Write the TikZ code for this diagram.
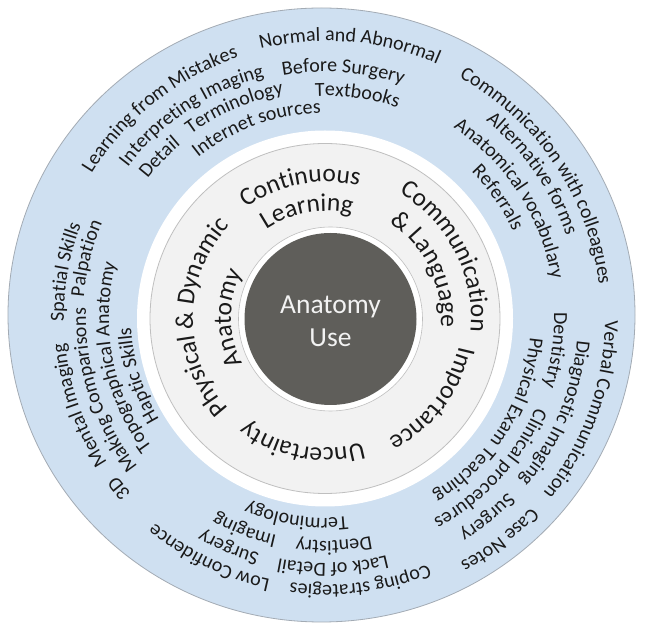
\documentclass[tikz,border=0pt]{standalone}
\usepackage{fontspec}
\setmainfont{Carlito}
\usetikzlibrary{decorations.text,calc}
\definecolor{ringblue}{HTML}{CFE0F1}
\definecolor{ringedge}{HTML}{A3ABB4}
\definecolor{midgray}{HTML}{F2F2F2}
\definecolor{midedge}{HTML}{BFBFBF}
\definecolor{coredark}{HTML}{5F5E5A}
\definecolor{coretext}{HTML}{F2F2F2}
\definecolor{inktext}{HTML}{1A1A1A}
\newcommand\outerfont{\fontsize{20}{24}\selectfont\color{inktext}}
\newcommand\ringfont{\fontsize{25.5}{30}\selectfont\color{inktext}}
\newcommand\centerfont{\fontsize{27.5}{33}\selectfont}
% radius, centre angle, font, text  (clockwise arc, text centred)
\newcommand\arctext[4]{%
  \path[decorate,decoration={text along path,text align=center,text={|#3|#4}}]
    ($(C)+({#2+70}:#1pt)$) arc[start angle={#2+70},end angle={#2-70},radius=#1pt];}
\begin{document}
\begin{tikzpicture}[x=1pt,y=1pt]
\useasboundingbox (0,0) rectangle (646,627);
\fill[white] (0,0) rectangle (646,627);
\coordinate (C) at (326,309);
\coordinate (O) at (321.5,312);
\coordinate (G) at (325,308.5);
\coordinate (K) at (330.5,308);
\filldraw[fill=ringblue,draw=ringedge,line width=0.8pt] (O) ellipse [x radius=313.5, y radius=307];
\fill[white] (G) circle[radius=188];
\filldraw[fill=midgray,draw=midedge,line width=0.8pt] (G) circle[radius=175];
\filldraw[fill=white,draw=midedge,line width=0.6pt] (K) circle[radius=92];
\fill[coredark] (K) circle[radius=86];
\node[text=coretext,align=center,font=\centerfont,inner sep=0pt] (core) at ([yshift=-2pt]K) {Anatomy\\Use};
% inner ring themes
\arctext{136}{101}{\ringfont}{Continuous}
\arctext{107}{100}{\ringfont}{Learning}
\arctext{145}{27.2}{\ringfont}{Communication}
\arctext{115}{26}{\ringfont}{{\&} Language}
\arctext{136}{-37.3}{\ringfont}{Importance}
\arctext{130}{-100.5}{\ringfont}{Uncertainty}
\arctext{133}{179.5}{\ringfont}{Physical {\&} Dynamic}
\arctext{95}{180}{\ringfont}{Anatomy}
% outer ring: continuous learning
\arctext{275}{128.5}{\outerfont}{Learning from Mistakes}
\arctext{277}{85}{\outerfont}{Normal and Abnormal}
\arctext{249}{123.5}{\outerfont}{Interpreting Imaging}
\arctext{246}{86}{\outerfont}{Before Surgery}
\arctext{226}{136}{\outerfont}{Detail}
\arctext{228}{113.5}{\outerfont}{Terminology}
\arctext{222}{82}{\outerfont}{Textbooks}
\arctext{205}{110}{\outerfont}{Internet sources}
% communication & language
\arctext{275}{34}{\outerfont}{Communication with colleagues}
\arctext{254}{35}{\outerfont}{Alternative forms}
\arctext{229}{33}{\outerfont}{Anatomical vocabulary}
\arctext{206}{35}{\outerfont}{Referrals}
% importance
\arctext{279}{-19.7}{\outerfont}{Verbal Communication}
\arctext{279}{-52}{\outerfont}{Case Notes}
\arctext{252}{-22.5}{\outerfont}{Diagnostic Imaging}
\arctext{252}{-51}{\outerfont}{Surgery}
\arctext{228}{-8}{\outerfont}{Dentistry}
\arctext{228}{-42.5}{\outerfont}{Clinical procedures}
\arctext{205}{-32}{\outerfont}{Physical Exam Teaching}
% uncertainty
\arctext{200}{-98.4}{\outerfont}{Terminology}
\arctext{223}{-111}{\outerfont}{Imaging}
\arctext{223}{-88}{\outerfont}{Dentistry}
\arctext{245}{-113}{\outerfont}{Surgery}
\arctext{245}{-88.4}{\outerfont}{Lack of Detail}
\arctext{267}{-82.6}{\outerfont}{Coping strategies}
\arctext{267}{-116}{\outerfont}{Low Confidence}
% physical & dynamic anatomy
\arctext{262}{219.5}{\outerfont}{3D}
\arctext{262}{199.5}{\outerfont}{Mental Imaging}
\arctext{262}{170}{\outerfont}{Spatial Skills}
\arctext{240}{198}{\outerfont}{Making Comparisons}
\arctext{243}{166}{\outerfont}{Palpation}
\arctext{217}{191}{\outerfont}{Topographical Anatomy}
\arctext{195}{197}{\outerfont}{Haptic Skills}
\end{tikzpicture}
\end{document}
